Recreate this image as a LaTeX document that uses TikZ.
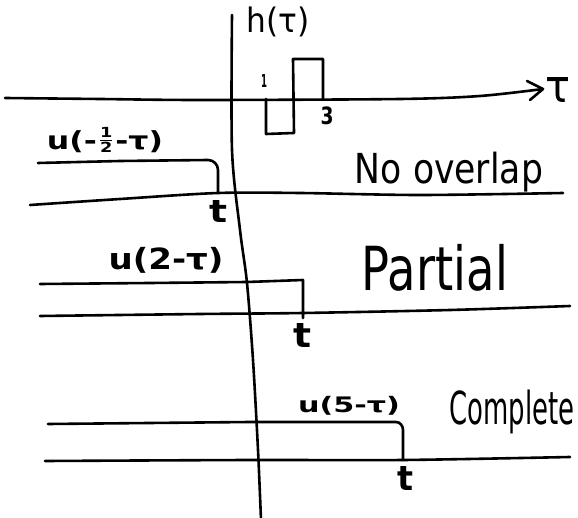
\documentclass[tikz,border=0pt]{standalone}
\usepackage{amsmath}
\usepackage{graphicx}
\usepackage{fontspec}
\setmainfont{DejaVu Sans}
\newcommand{\fitbox}[3]{\resizebox*{#1}{#2}{#3}}
\newcommand{\half}{\raisebox{0.15em}{\scalebox{0.8}{$\frac{\text{1}}{\text{2}}$}}}
\begin{document}
\begin{tikzpicture}[x=1pt,y=-1pt,
  pen/.style={line width=2.6pt, line cap=round, line join=round},
  lbl/.style={inner sep=0pt, anchor=center},
  blbl/.style={lbl, font=\bfseries}]
\useasboundingbox (0,0) rectangle (578,518);
\fill[white] (0,0) rectangle (578,518);
% vertical axis
\draw[pen] plot[smooth] coordinates {(232,15) (232,150) (240,230) (247,283) (253,360) (258,450) (261,520)};
% tau axis with open arrowhead
\draw[pen] plot[smooth] coordinates {(5,98) (100,99) (200,100) (400,99) (480,96) (543,89)};
\coordinate (tip) at (543,89);
\draw[pen] (527,81) -- (tip) -- (530,100);
\node[lbl] (tau) at (558,90) {\fitbox{25pt}{25pt}{τ}};
\node[lbl] (ht) at (278,22) {\fitbox{63pt}{30pt}{h(τ)}};
% h(tau)
\draw[pen] (266,99) -- (266,134) -- (294,133) -- (293,59) -- (323,59) -- (323,99);
\node[blbl] (one) at (264,81) {\fitbox{6pt}{13pt}{1}};
\node[blbl] (three) at (327,116) {\fitbox{13pt}{18pt}{3}};
% row 1
\node[blbl] (l1) at (105,140) {\fitbox{116pt}{25pt}{u(-\half-τ)}};
\draw[pen] (38,163) -- (120,161) -- (208,160) to[out=0,in=90] (218,170) -- (218,193);
\draw[pen] plot[smooth] coordinates {(30,205) (120,199) (218,193) (300,193) (420,195) (563,193)};
\node[blbl] (t1) at (218,212) {\fitbox{18pt}{22pt}{t}};
\node[lbl] (no) at (449,172) {\fitbox{188pt}{40pt}{No overlap}};
% row 2
\node[blbl] (l2) at (166,260) {\fitbox{115pt}{26pt}{u(2-τ)}};
\draw[pen] (40,284) -- (150,283) -- (247,282) -- (303,280) -- (303,318);
\draw[pen] plot[smooth] coordinates {(40,316) (200,314) (303,313) (450,310) (570,306)};
\node[blbl] (t2) at (302,336) {\fitbox{18pt}{24pt}{t}};
\node[lbl] (part) at (435,268) {\fitbox{146pt}{47pt}{Partial}};
% row 3
\node[blbl] (l3) at (349,406) {\fitbox{102pt}{19pt}{u(5-τ)}};
\draw[pen] (48,424) -- (250,422) -- (396,422) to[out=0,in=90] (403,430) -- (403,460);
\draw[pen] plot[smooth] coordinates {(45,461) (250,460) (403,460) (570,457)};
\node[blbl] (t3) at (405,478) {\fitbox{16pt}{24pt}{t}};
\node[lbl] (comp) at (512,412) {\fitbox{125pt}{44pt}{Complete}};
\end{tikzpicture}
\end{document}
